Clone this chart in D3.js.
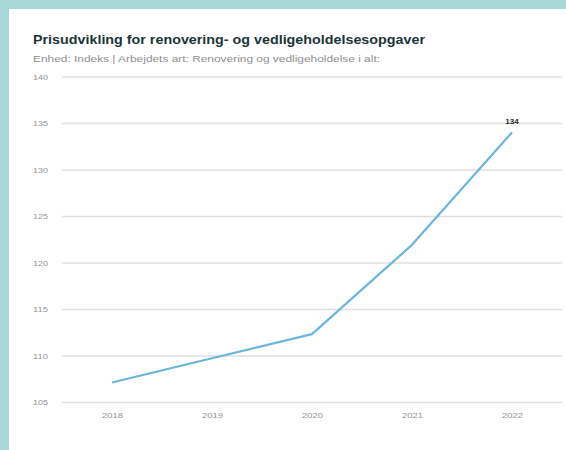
<!DOCTYPE html>
<html>
<head>
<meta charset="utf-8">
<script src="https://cdn.jsdelivr.net/npm/d3@7"></script>
<style>
  html, body { margin: 0; padding: 0; background: #a8d8d8; }
  svg { display: block; }
  text { font-family: "Liberation Sans", Arial, sans-serif; }
</style>
</head>
<body>
<svg id="chart" width="566" height="450"></svg>
<script>
// Price index for renovation and maintenance work
const years = ["2018", "2019", "2020", "2021", "2022"];
const indexValues = [107.1, 109.7, 112.3, 121.9, 134];
const yTicks = [105, 110, 115, 120, 125, 130, 135, 140];
const title = "Prisudvikling for renovering- og vedligeholdelsesopgaver";
const subtitle = "Enhed: Indeks | Arbejdets art: Renovering og vedligeholdelse i alt:";

const svg = d3.select("#chart");

// white card on the teal background
svg.append("rect")
  .attr("x", 9).attr("y", 9)
  .attr("width", 557).attr("height", 441)
  .attr("fill", "#ffffff");

const plot = { left: 62, right: 562, top: 76.5, bottom: 402 };

const x = d3.scalePoint()
  .domain(years)
  .range([plot.left, plot.right])
  .padding(0.5);

const y = d3.scaleLinear()
  .domain([105, 140])
  .range([plot.bottom, plot.top]);

svg.append("text")
  .attr("x", 33).attr("y", 44)
  .attr("font-size", 13.5)
  .attr("font-weight", "bold")
  .attr("fill", "#1a3536")
  .attr("textLength", 392)
  .attr("lengthAdjust", "spacingAndGlyphs")
  .text(title);

svg.append("text")
  .attr("x", 33).attr("y", 62)
  .attr("font-size", 9.5)
  .attr("fill", "#8e8e8e")
  .attr("textLength", 347)
  .attr("lengthAdjust", "spacingAndGlyphs")
  .text(subtitle);

// horizontal gridlines
const yAxis = d3.axisLeft(y)
  .tickValues(yTicks)
  .tickSize(-(plot.right - plot.left))
  .tickPadding(0)
  .tickFormat(d3.format("d"));

const gy = svg.append("g")
  .attr("transform", `translate(${plot.left},0)`)
  .call(yAxis);
gy.select(".domain").remove();
gy.selectAll(".tick line")
  .attr("stroke", "#e2dede")
  .attr("stroke-width", 1.5);
gy.selectAll(".tick text")
  .attr("x", 33 - plot.left)
  .attr("text-anchor", "start")
  .attr("font-size", 8)
  .attr("fill", "#949494")
  .attr("textLength", 15)
  .attr("lengthAdjust", "spacingAndGlyphs");

// year labels
const xAxis = d3.axisBottom(x).tickSize(0).tickPadding(0);
const gx = svg.append("g")
  .attr("transform", `translate(0,${plot.bottom + 13})`)
  .call(xAxis);
gx.select(".domain").remove();
gx.selectAll(".tick text")
  .attr("dy", "0.35em")
  .attr("font-size", 8)
  .attr("fill", "#949494")
  .attr("textLength", 21)
  .attr("lengthAdjust", "spacingAndGlyphs")
  .attr("x", -10.5)
  .attr("text-anchor", "start");

// index line
const line = d3.line()
  .x((d, i) => x(years[i]))
  .y(d => y(d));

svg.append("path")
  .datum(indexValues)
  .attr("d", line)
  .attr("fill", "none")
  .attr("stroke", "#6bb5dc")
  .attr("stroke-width", 2.2)
  .attr("stroke-linejoin", "round");

// value label on the last point
const last = indexValues.length - 1;
svg.append("text")
  .attr("x", x(years[last]))
  .attr("y", y(indexValues[last]) - 8)
  .attr("text-anchor", "middle")
  .attr("font-size", 8)
  .attr("font-weight", "bold")
  .attr("fill", "#1e1e1e")
  .text(d3.format("d")(indexValues[last]));
</script>
</body>
</html>
